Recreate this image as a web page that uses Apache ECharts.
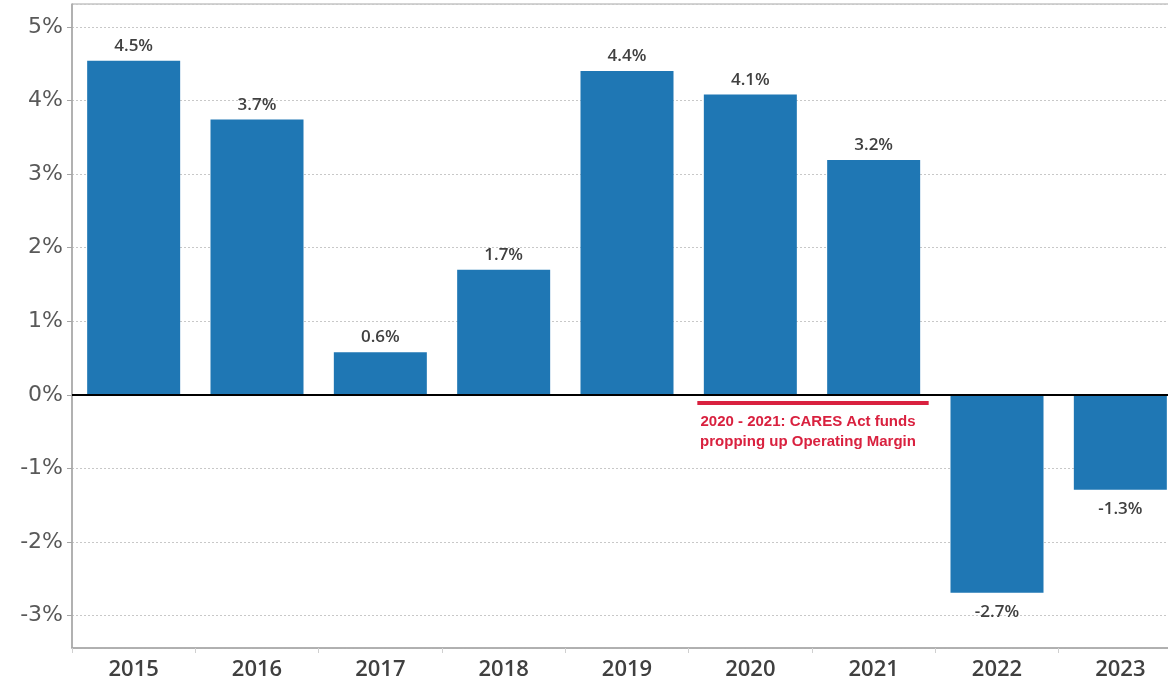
<!DOCTYPE html>
<html><head><meta charset="utf-8">
<script src="https://cdn.jsdelivr.net/npm/echarts@6/dist/echarts.min.js"></script>
<style>html,body{margin:0;padding:0;background:#fff;overflow:hidden}#c{width:1168px;height:685px}</style>
</head><body><div id="c"></div>
<script>
const categories = ['2015','2016','2017','2018','2019','2020','2021','2022','2023'];
const margins = [4.54, 3.74, 0.58, 1.70, 4.40, 4.08, 3.19, -2.69, -1.29];
const annotationLines = ['2020 - 2021: CARES Act funds', 'propping up Operating Margin'];
const annotationRange = ['2020', '2021'];

const chart = echarts.init(document.getElementById('c'));
const font = '"Open Sans", "Noto Sans", sans-serif';
chart.setOption({
  animation: false,
  grid: { left: 72, width: 1110, top: 4, bottom: 37, outerBoundsMode: 'none', containLabel: false,
    show: true, borderColor: '#a6a6a6', borderWidth: 1 },
  xAxis: {
    type: 'category', data: categories,
    axisLine: { onZero: false, lineStyle: { color: '#a6a6a6', width: 1.5 } },
    axisTick: { show: true, length: 5, lineStyle: { color: '#d0d0d0' } },
    axisLabel: { color: '#404040', fontSize: 22, fontWeight: 600, fontFamily: font, margin: 11 }
  },
  yAxis: {
    type: 'value', min: -3.44, max: 5.31, splitNumber: 9,
    axisLine: { show: true, lineStyle: { color: '#a6a6a6', width: 1.5 } },
    axisTick: { show: true, length: 5, lineStyle: { color: '#a6a6a6' } },
    axisLabel: { color: '#595959', fontSize: 22, fontFamily: '"DejaVu Sans", sans-serif', margin: 9, showMinLabel: false, showMaxLabel: false,
      formatter: v => (Math.abs(v - Math.round(v)) < 1e-6 ? Math.round(v) + '%' : '') },
    splitLine: { show: true, lineStyle: { color: '#c8c8c8', type: [2, 2], width: 1 } }
  },
  series: [{
    type: 'bar', barWidth: 93,
    data: margins.map(v => v < 0 ? { value: v, label: { position: 'bottom', distance: 11 } } : v),
    itemStyle: { color: '#1f77b4' },
    label: { show: true, position: 'top', distance: 6, color: '#404040', fontSize: 17, fontWeight: 600, fontFamily: font,
      formatter: p => p.value.toFixed(1) + '%' },
    markLine: { silent: true, symbol: 'none', label: { show: false },
      lineStyle: { color: '#000', width: 2, type: 'solid' }, data: [{ yAxis: 0 }] }
  }]
});

const a = chart.convertToPixel({ xAxisIndex: 0, yAxisIndex: 0 }, [annotationRange[0], -0.11]);
const b = chart.convertToPixel({ xAxisIndex: 0, yAxisIndex: 0 }, [annotationRange[1], -0.11]);
const mid = (a[0] + b[0]) / 2;
chart.setOption({
  graphic: [
    { type: 'line', shape: { x1: a[0] - 53, y1: a[1], x2: b[0] + 55, y2: b[1] }, style: { stroke: '#d9213f', lineWidth: 4 } },
    { type: 'text', x: mid - 4, y: a[1] + 9, style: { text: annotationLines.join('\n'), fill: '#d9213f', font: 'bold 15px "Liberation Sans", Arial, sans-serif', align: 'center', lineHeight: 20 } }
  ]
});
</script></body></html>
